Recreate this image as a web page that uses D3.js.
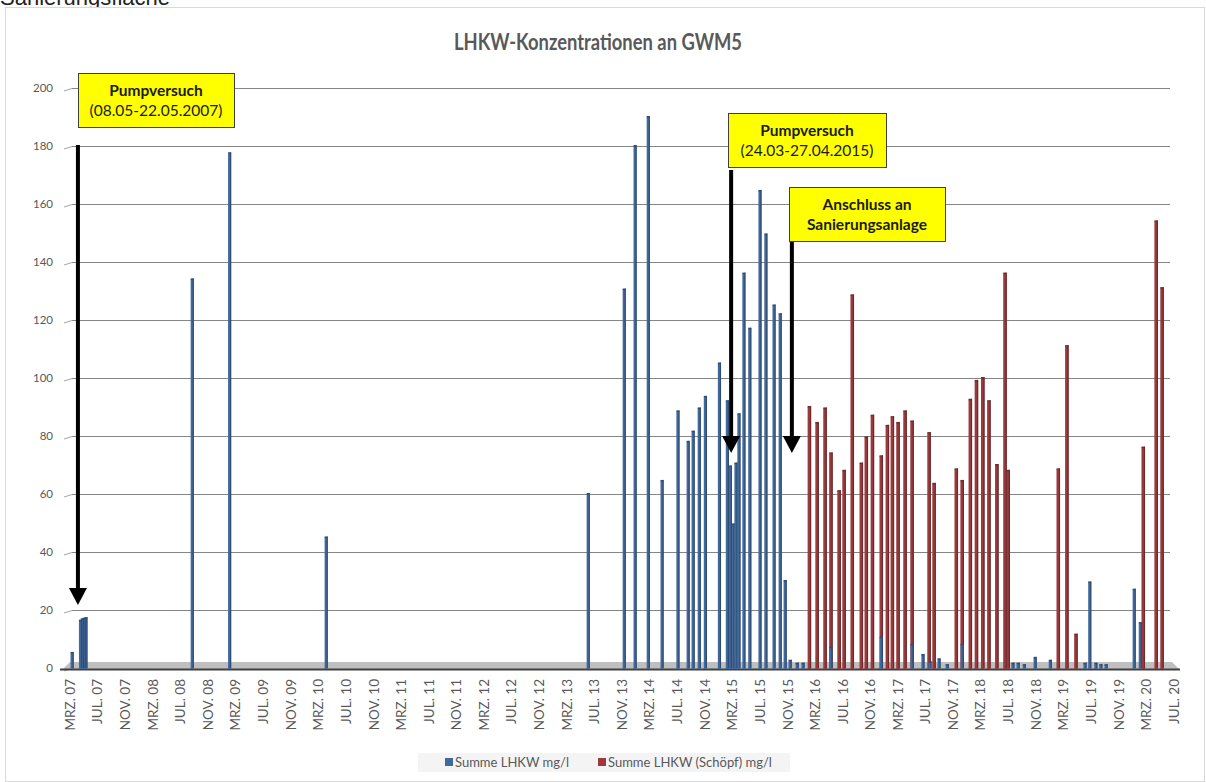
<!DOCTYPE html>
<html>
<head>
<meta charset="utf-8">
<script src="https://cdn.jsdelivr.net/npm/d3@7"></script>
<style>
  body { margin: 0; background: #fff; }
  svg { display: block; }
</style>
</head>
<body>
<script>
// LHKW-Konzentrationen an GWM5

var width = 1206
var height = 782

var yTicks = [0, 20, 40, 60, 80, 100, 120, 140, 160, 180, 200]
var monthNames = ["JAN.", "FEB.", "MRZ.", "APR.", "MAI", "JUN.", "JUL.", "AUG.", "SEP.", "OKT.", "NOV.", "DEZ."]

// Summe LHKW mg/l
var blueDates = [
  "2007-03-10", "2007-04-16", "2007-04-24", "2007-05-02", "2007-05-10",
  "2008-08-21", "2009-02-02", "2010-04-04",
  "2013-06-03", "2013-11-09", "2013-12-27", "2014-02-23", "2014-04-25",
  "2014-07-04", "2014-08-18", "2014-09-09", "2014-10-06", "2014-11-02",
  "2015-01-03", "2015-02-07", "2015-02-20", "2015-03-04", "2015-03-17",
  "2015-03-30", "2015-04-21", "2015-05-17", "2015-07-01", "2015-07-27",
  "2015-09-01", "2015-09-28", "2015-10-20", "2015-11-11", "2015-12-12",
  "2016-01-07", "2016-05-09", "2016-12-17", "2017-05-02", "2017-06-19",
  "2017-07-20", "2017-08-29", "2017-10-04", "2017-12-09", "2018-07-21",
  "2018-08-13", "2018-09-09", "2018-10-27", "2019-01-02", "2019-06-04",
  "2019-06-25", "2019-07-22", "2019-08-13", "2019-09-05", "2020-01-07",
  "2020-02-03"
]
var blueValues = [
  5.2, 16.3, 16.8, 17, 17.2,
  134, 177.5, 45,
  60, 130.5, 180, 190, 64.5,
  88.5, 78, 81.5, 89.5, 93.5,
  105, 92, 69.5, 49.5, 70.5,
  87.5, 136, 117, 164.5, 149.5,
  125, 122, 30, 2.5, 1.5,
  1.5, 7, 10.5, 8, 4.5,
  2, 3, 1, 8, 1.5,
  1.5, 1, 3.5, 2.5, 1.5,
  29.5, 1.5, 1, 1, 27,
  15.5
]

// Summe LHKW (Schöpf) mg/l
var redDates = [
  "2016-02-04", "2016-03-09", "2016-04-13", "2016-05-09", "2016-06-14",
  "2016-07-06", "2016-08-11", "2016-09-20", "2016-10-12", "2016-11-08",
  "2016-12-17", "2017-01-13", "2017-02-04", "2017-03-01", "2017-04-01",
  "2017-05-02", "2017-07-16", "2017-08-07", "2017-11-13", "2017-12-09",
  "2018-01-14", "2018-02-10", "2018-03-10", "2018-04-06", "2018-05-11",
  "2018-06-16", "2018-06-30", "2019-02-06", "2019-03-16", "2019-04-25",
  "2020-02-16", "2020-04-13", "2020-05-09"
]
var redValues = [
  90, 84.5, 89.5, 74, 61,
  68, 128.5, 70.5, 79.5, 87,
  73, 83.5, 86.5, 84.5, 88.5,
  85, 81, 63.5, 68.5, 64.5,
  92.5, 99, 100, 92, 70,
  136, 68, 68.5, 111, 11.5,
  76, 154, 131
]

var notes = [
  { date: "2007-04-05", lines: ["Pumpversuch", "(08.05-22.05.2007)"], boxX: 78, boxY: 73, boxW: 156, top: 145, tip: 605, bold: [true, false] },
  { date: "2015-02-24", lines: ["Pumpversuch", "(24.03-27.04.2015)"], boxX: 728, boxY: 113, boxW: 158, top: 170, tip: 453, bold: [true, false] },
  { date: "2015-11-19", lines: ["Anschluss an", "Sanierungsanlage"], boxX: 789, boxY: 187, boxW: 156, top: 242, tip: 453, bold: [true, true] }
]

var parse = d3.timeParse("%Y-%m-%d")
var blue = blueDates.map((d, i) => ({ date: parse(d), value: blueValues[i] }))
var red = redDates.map((d, i) => ({ date: parse(d), value: redValues[i] }))

var x = d3.scaleTime()
    .domain([new Date(2007, 2, 1), new Date(2020, 6, 1)])
    .range([70, 1174])

var y = d3.scaleLinear()
    .domain([0, 200])
    .range([668, 88])

var plotLeft = 72, plotRight = 1170

var svg = d3.select("body").append("svg")
    .attr("width", width)
    .attr("height", height)
    .style("font-family", "Lato, 'Open Sans', sans-serif")

// text above the chart, mostly cut off
svg.append("text")
    .attr("x", 0)
    .attr("y", 5)
    .attr("font-family", "'Liberation Sans', Arial, sans-serif")
    .attr("font-size", 22)
    .attr("fill", "#222")
    .text("Sanierungsfläche")

// chart border
svg.append("rect")
    .attr("x", 5.5).attr("y", 7.5)
    .attr("width", 1199).attr("height", 774)
    .attr("fill", "#fff")
    .attr("stroke", "#d9d9d9")

svg.append("text")
    .attr("x", 598)
    .attr("y", 50)
    .attr("text-anchor", "middle")
    .attr("font-size", 23)
    .attr("font-weight", "bold")
    .attr("fill", "#595959")
    .attr("textLength", 288)
    .attr("lengthAdjust", "spacingAndGlyphs")
    .text("LHKW-Konzentrationen an GWM5")

// gridlines (back wall) + side wall stubs
var grid = svg.append("g")
grid.selectAll("line.grid")
    .data(yTicks.filter(d => d > 0))
    .enter().append("line")
    .attr("class", "grid")
    .attr("x1", plotLeft).attr("x2", plotRight)
    .attr("y1", d => y(d) + 0.5).attr("y2", d => y(d) + 0.5)
    .attr("stroke", "#858585")
grid.selectAll("line.stub")
    .data(yTicks)
    .enter().append("line")
    .attr("class", "stub")
    .attr("x1", 64).attr("x2", plotLeft)
    .attr("y1", d => y(d) + 3).attr("y2", d => y(d) + 0.5)
    .attr("stroke", "#a6a6a6")

svg.append("g")
    .selectAll("text")
    .data(yTicks)
    .enter().append("text")
    .attr("x", 53)
    .attr("y", d => y(d))
    .attr("dy", "0.35em")
    .attr("text-anchor", "end")
    .attr("font-size", 11.5)
    .attr("fill", "#595959")
    .text(d => d)

// floor of the 3D plot
svg.append("polygon")
    .attr("points", [[62, y(0) + 2], [1180, y(0) + 2], [1172, y(0) - 6], [70, y(0) - 6]].join(" "))
    .attr("fill", "#bfbfbf")
svg.append("line")
    .attr("x1", 60).attr("x2", 1180)
    .attr("y1", y(0) + 1.5).attr("y2", y(0) + 1.5)
    .attr("stroke", "#404040")
    .attr("stroke-width", 2)

// bars: front face + darker side
function drawBars(data, front, side, w) {
  var g = svg.append("g")
  g.selectAll("rect.front")
      .data(data)
      .enter().append("rect")
      .attr("class", "front")
      .attr("x", d => x(d.date) - w / 2)
      .attr("y", d => y(d.value))
      .attr("width", w)
      .attr("height", d => y(0) - y(d.value) + 1)
      .attr("fill", front)
  g.selectAll("rect.side")
      .data(data)
      .enter().append("rect")
      .attr("class", "side")
      .attr("x", d => x(d.date) + w / 2 - 1)
      .attr("y", d => y(d.value) - 1)
      .attr("width", 1.2)
      .attr("height", d => y(0) - y(d.value) + 1)
      .attr("fill", side)
  g.selectAll("rect.top")
      .data(data)
      .enter().append("rect")
      .attr("class", "top")
      .attr("x", d => x(d.date) - w / 2)
      .attr("y", d => y(d.value) - 1)
      .attr("width", w)
      .attr("height", 1.5)
      .attr("fill", side)
}

drawBars(red, "#993a3c", "#6e2a2c", 3.4)
drawBars(blue, "#41699c", "#2f4c72", 3)

// x axis labels
var tickDates = d3.timeMonth.range(new Date(2007, 2, 1), new Date(2020, 6, 2), 4)
svg.append("g")
    .selectAll("text")
    .data(tickDates)
    .enter().append("text")
    .attr("transform", d => `translate(${x(d)},679) rotate(-90)`)
    .attr("dy", "0.35em")
    .attr("text-anchor", "end")
    .attr("font-size", 13.5)
    .attr("fill", "#595959")
    .text(d => monthNames[d.getMonth()] + " " + d3.timeFormat("%y")(d))

// annotations
notes.forEach(n => {
  var ax = x(parse(n.date))
  svg.append("line")
      .attr("x1", ax).attr("x2", ax)
      .attr("y1", n.top).attr("y2", n.tip - 14)
      .attr("stroke", "#000")
      .attr("stroke-width", 4)
  svg.append("polygon")
      .attr("points", [[ax - 9, n.tip - 17], [ax + 9, n.tip - 17], [ax, n.tip]].join(" "))
      .attr("fill", "#000")
  svg.append("rect")
      .attr("x", n.boxX + 0.5).attr("y", n.boxY + 0.5)
      .attr("width", n.boxW).attr("height", 54)
      .attr("fill", "#ffff00")
      .attr("stroke", "#404040")
  n.lines.forEach((t, i) => {
    svg.append("text")
        .attr("x", n.boxX + n.boxW / 2)
        .attr("y", n.boxY + 23 + i * 20)
        .attr("text-anchor", "middle")
        .attr("font-size", 15.5)
        .attr("font-weight", n.bold[i] ? "bold" : "normal")
        .attr("fill", "#1a1a1a")
        .text(t)
  })
})

// legend
var legend = svg.append("g")
legend.append("rect")
    .attr("x", 418).attr("y", 753)
    .attr("width", 372).attr("height", 19)
    .attr("fill", "#f4f4f4")
var items = [
  { label: "Summe LHKW mg/l", color: "#41699c", lx: 445 },
  { label: "Summe LHKW (Schöpf) mg/l", color: "#993a3c", lx: 598 }
]
items.forEach(it => {
  legend.append("rect")
      .attr("x", it.lx).attr("y", 758)
      .attr("width", 8).attr("height", 8)
      .attr("fill", it.color)
  legend.append("text")
      .attr("x", it.lx + 10).attr("y", 762)
      .attr("dy", "0.35em")
      .attr("font-size", 13)
      .attr("fill", "#595959")
      .text(it.label)
})
</script>
</body>
</html>
